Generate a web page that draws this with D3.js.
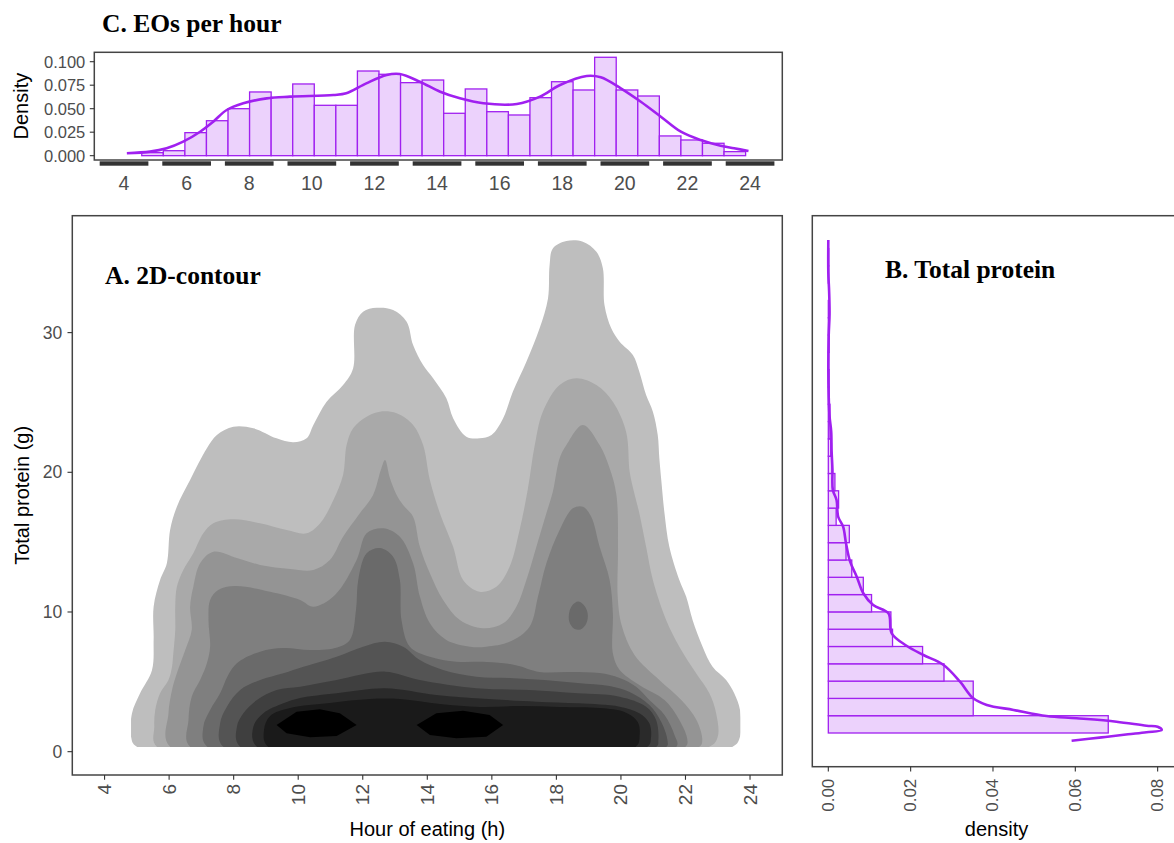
<!DOCTYPE html>
<html>
<head>
<meta charset="utf-8">
<script src="https://cdn.jsdelivr.net/npm/d3@7"></script>
<style>
  html, body { margin: 0; padding: 0; background: #ffffff; }
  svg { display: block; }
</style>
</head>
<body>
<svg id="chart" width="1174" height="843"></svg>
<script>
// ---------------- data ----------------
const hourTicks = [4, 6, 8, 10, 12, 14, 16, 18, 20, 22, 24];
const proteinTicks = [0, 10, 20, 30];
const hourDensityTicks = [0, 0.025, 0.05, 0.075, 0.1];
const proteinDensityTicks = [0, 0.02, 0.04, 0.06, 0.08];

// C. eating occasions per hour: histogram (density scale) + kernel density
const hourBinStart = 4.566;
const hourBinWidth = 0.689;
const hourBinDensity = [
  0.0032, 0.0053, 0.0245, 0.0372, 0.0500, 0.0678, 0.0621, 0.0763, 0.0536, 0.0536,
  0.0901, 0.0866, 0.0777, 0.0805, 0.0451, 0.0710, 0.0468, 0.0433, 0.0617, 0.0787,
  0.0699, 0.1047, 0.0699, 0.0635, 0.0210, 0.0167, 0.0132, 0.0043
];
const hourDensityHours = [4.09, 4.83, 5.36, 5.89, 6.43, 6.85, 7.28, 7.81, 8.56, 9.30, 10.69, 11.10, 11.74, 12.39, 12.81, 13.45, 14.10, 14.73, 15.48, 16.55, 17.29, 17.93, 18.78, 19.23, 19.87, 20.51, 21.15, 21.79, 22.42, 23.06, 23.49, 23.95];
const hourDensityValues = [0.0026, 0.0043, 0.0079, 0.0149, 0.0255, 0.0362, 0.0486, 0.0557, 0.0610, 0.0628, 0.0646, 0.0664, 0.0770, 0.0859, 0.0869, 0.0787, 0.0680, 0.0610, 0.0557, 0.0550, 0.0628, 0.0752, 0.0848, 0.0834, 0.0717, 0.0574, 0.0415, 0.0255, 0.0167, 0.0106, 0.0079, 0.0050];

// B. total protein per eating occasion: histogram + kernel density (flipped)
const proteinBinStart = 1.225;
const proteinBinWidth = 1.25;
const proteinBinDensity = [
  0.0680, 0.0352, 0.0352, 0.0281, 0.0229, 0.0156, 0.0152, 0.0105, 0.0085, 0.0057,
  0.0043, 0.0051, 0.0019, 0.0025, 0.0016, 0.0009, 0.0006, 0.0004, 0.0004, 0.0002,
  0.0002, 0.0001, 0.0002, 0.0001, 0.0001, 0.0000, 0.0001, 0.0001
];
const proteinDensityGrams = [0.67, 0.91, 1.13, 1.28, 1.44, 1.68, 1.75, 2.04, 2.29, 2.45, 2.89, 3.25, 3.73, 4.93, 6.14, 6.86, 7.53, 8.43, 9.87, 10.47, 11.32, 12.52, 13.60, 14.93, 16.13, 16.85, 18.06, 18.78, 20.30, 21.60, 23.00, 24.10, 25.50, 27.50, 30.00, 31.50, 33.10, 34.50, 36.85];
const proteinDensityValues = [0.0591, 0.0664, 0.0728, 0.0773, 0.0810, 0.0800, 0.0773, 0.0700, 0.0603, 0.0530, 0.0450, 0.0385, 0.0352, 0.0320, 0.0280, 0.0231, 0.0190, 0.0154, 0.0146, 0.0109, 0.0085, 0.0069, 0.0053, 0.0043, 0.0036, 0.0024, 0.0020, 0.0011, 0.0010, 0.0008, 0.0007, 0.0003, 0.0001, 0.0000, 0.0001, 0.0003, 0.0002, 0.0000, 0.0000];

// A. 2D density of (hour, protein): outline of each density level, [hour, protein g]
const gridHourRange = [4.82, 23.70];
const gridProteinMin = 0.33;
const level1 = [[5.00,0.36],[4.82,1.07],[4.85,2.75],[5.10,4.18],[5.47,5.85],[5.52,8.00],[5.52,10.38],[5.72,12.29],[5.93,13.49],[6.03,15.87],[6.24,17.54],[6.65,19.45],[7.17,21.72],[7.48,22.67],[7.99,23.26],[8.61,23.15],[9.33,22.43],[9.85,22.15],[10.26,22.43],[10.47,23.39],[10.88,25.05],[11.39,26.25],[11.70,27.44],[11.76,30.54],[12.01,31.50],[12.43,31.78],[12.94,31.62],[13.36,30.78],[13.56,29.11],[13.87,27.68],[14.18,26.73],[14.59,25.30],[14.80,23.87],[15.21,22.55],[15.62,22.43],[15.99,22.67],[16.35,23.87],[16.65,25.77],[17.07,27.92],[17.48,30.31],[17.74,32.45],[17.79,34.84],[17.89,36.03],[18.31,36.56],[18.82,36.51],[19.24,35.79],[19.44,34.60],[19.49,31.98],[19.70,30.31],[19.96,29.35],[20.37,28.40],[20.57,27.20],[20.78,25.53],[20.99,24.34],[21.14,22.67],[21.19,21.00],[21.25,19.45],[21.35,17.07],[21.50,14.67],[21.81,12.29],[22.02,11.10],[22.22,9.43],[22.53,7.52],[22.84,6.08],[23.26,5.13],[23.51,4.18],[23.69,2.98],[23.69,1.07],[23.46,0.36]];
const level2 = [[5.62,0.36],[5.54,1.79],[5.57,2.98],[5.72,4.18],[5.98,5.13],[6.09,6.08],[6.13,7.04],[6.19,8.71],[6.19,10.38],[6.24,11.81],[6.44,13.01],[6.75,14.20],[7.06,15.63],[7.37,16.35],[7.99,16.64],[8.82,16.35],[9.64,15.87],[10.26,15.63],[10.68,16.35],[11.09,18.02],[11.39,19.81],[11.50,21.95],[11.70,23.15],[12.12,23.98],[12.53,24.34],[13.05,24.22],[13.56,23.39],[13.87,21.95],[14.08,19.45],[14.39,17.07],[14.80,14.67],[15.11,12.29],[15.62,11.45],[16.14,11.81],[16.55,13.24],[16.86,15.87],[17.11,18.73],[17.33,21.95],[17.58,24.34],[18.10,26.25],[18.62,26.73],[19.24,26.25],[19.75,25.05],[20.16,22.91],[20.27,20.04],[20.39,18.73],[20.57,17.07],[20.78,14.67],[20.99,12.29],[21.40,9.43],[21.81,7.52],[22.33,5.61],[22.74,4.18],[22.95,2.75],[23.00,1.07],[22.74,0.36]];
const level3 = [[6.03,0.36],[5.98,2.75],[6.09,4.42],[6.24,5.61],[6.50,7.28],[6.70,8.71],[6.65,10.38],[6.75,11.81],[6.96,13.49],[7.37,14.32],[8.10,13.87],[8.82,13.37],[9.75,13.08],[10.47,13.01],[10.98,13.72],[11.39,15.39],[11.91,17.07],[12.32,18.38],[12.56,20.16],[12.69,20.88],[12.84,19.59],[13.05,18.38],[13.25,17.66],[13.56,16.82],[13.77,14.67],[14.08,12.77],[14.49,10.86],[15.01,9.43],[15.73,8.83],[16.35,9.19],[16.76,10.38],[17.07,12.29],[17.38,14.67],[17.69,17.07],[17.89,18.61],[18.10,21.00],[18.31,21.95],[18.82,23.39],[19.34,21.95],[19.65,20.29],[19.86,18.38],[19.91,14.67],[19.90,11.10],[20.02,9.07],[20.42,6.92],[21.19,5.13],[21.87,3.70],[22.34,2.27],[22.52,0.84],[22.43,0.36]];
const level4 = [[6.65,0.36],[6.60,2.27],[6.70,3.94],[6.96,5.13],[7.17,6.33],[7.27,7.52],[7.22,9.43],[7.27,10.86],[7.52,11.57],[8.04,11.86],[9.13,11.45],[10.06,10.86],[10.47,10.38],[11.14,11.22],[11.81,13.72],[12.12,15.63],[12.63,15.99],[13.15,15.39],[13.56,13.49],[13.77,11.10],[14.08,9.19],[14.59,8.00],[15.32,7.52],[15.83,7.52],[16.55,7.87],[17.17,8.95],[17.43,11.10],[17.69,13.49],[18.10,15.87],[18.51,17.42],[18.82,17.54],[19.08,16.82],[19.34,14.67],[19.65,12.29],[19.75,9.91],[19.75,7.04],[19.96,5.85],[20.57,4.78],[21.35,3.70],[21.81,2.27],[22.06,0.84],[22.00,0.36]];
const level5 = [[7.18,0.36],[7.06,1.79],[7.27,2.98],[7.58,4.18],[7.83,5.49],[8.10,6.33],[8.82,7.16],[9.54,7.42],[10.36,7.28],[11.14,7.42],[11.60,8.00],[11.79,10.14],[11.86,12.29],[12.12,14.20],[12.53,14.58],[12.94,13.96],[13.15,12.29],[13.20,9.43],[13.46,7.52],[14.08,6.80],[14.90,6.44],[15.83,6.42],[16.71,6.21],[17.48,5.71],[18.41,5.71],[19.34,5.63],[19.96,5.28],[20.47,4.65],[20.88,3.70],[21.35,2.63],[21.66,1.19],[21.72,0.36]];
const level5Island = [[18.67,10.75],[18.85,10.50],[18.97,9.90],[18.93,9.20],[18.75,8.75],[18.55,8.80],[18.40,9.30],[18.40,10.00],[18.50,10.50]];
const level6 = [[7.68,0.36],[7.58,2.03],[7.79,3.22],[8.20,4.42],[8.82,5.13],[9.54,5.61],[10.16,6.08],[11.19,6.80],[12.01,7.52],[12.69,7.87],[13.25,7.52],[13.77,6.56],[14.49,5.85],[15.52,5.37],[16.55,5.28],[17.63,5.13],[18.66,4.92],[19.65,4.70],[20.27,4.27],[20.88,3.34],[21.25,2.13],[21.44,0.84],[21.41,0.36]];
const level7 = [[8.20,0.36],[8.10,1.79],[8.30,2.75],[8.72,3.70],[9.33,4.42],[10.06,4.65],[11.19,5.13],[12.69,5.73],[13.77,5.13],[15.52,4.54],[17.17,4.42],[18.67,4.18],[19.96,3.94],[20.78,3.22],[21.09,2.27],[21.16,0.84],[21.10,0.36]];
const level8 = [[8.72,0.36],[8.61,1.79],[8.92,2.75],[9.54,3.46],[10.06,3.84],[11.19,4.18],[12.69,4.54],[14.28,4.06],[15.52,3.82],[17.38,3.58],[18.67,3.46],[19.96,3.22],[20.57,2.75],[20.88,2.03],[20.93,0.98],[20.82,0.36]];
const level9 = [[9.07,0.36],[8.94,1.55],[9.13,2.56],[9.75,3.13],[10.98,3.49],[12.22,3.77],[13.15,3.77],[14.39,3.41],[15.63,3.20],[16.86,3.27],[18.10,3.20],[19.34,3.13],[20.11,2.84],[20.52,2.13],[20.58,1.19],[20.46,0.36]];
const level10a = [[9.33,1.91],[9.95,2.86],[10.67,3.04],[11.29,2.75],[11.81,1.91],[11.19,1.12],[10.37,1.03],[9.64,1.32]];
const level10b = [[13.67,1.91],[14.28,2.75],[15.11,2.93],[15.93,2.63],[16.35,1.91],[15.83,1.07],[14.90,0.96],[14.08,1.19]];
const levelGrays = ["#bebebe", "#a9a9a9", "#949494", "#7f7f7f", "#6a6a6a", "#545454", "#3f3f3f", "#2a2a2a", "#1a1a1a", "#000000"];
const levelShapes = [[level1], [level2], [level3], [level4], [level5, level5Island], [level6], [level7], [level8], [level9], [level10a, level10b]];

// ---------------- drawing ----------------
const PURPLE = "#a020f0";
const PURPLE_FILL = "#ecd2fc";
const SANS = "'Liberation Sans', Arial, sans-serif";
const SERIF = "'Liberation Serif', 'Times New Roman', serif";
const TICK_TEXT = "#4d4d4d";
const FRAME = "#444444";

const svg = d3.select("#chart");

function frame(g, x0, y0, x1, y1) {
  g.append("rect")
    .attr("x", x0).attr("y", y0)
    .attr("width", x1 - x0).attr("height", y1 - y0)
    .attr("fill", "none").attr("stroke", FRAME).attr("stroke-width", 1.5);
}

function boldTitle(text, x, y) {
  svg.append("text").attr("x", x).attr("y", y)
    .attr("font-family", SERIF).attr("font-weight", "bold")
    .attr("font-size", 25.5).attr("fill", "#000").text(text);
}

// ===== Panel C: EOs per hour =====
const C = { left: 94.3, right: 782.3, top: 52.3, bottom: 160 };
const xC = d3.scaleLinear().domain([3.05, 25.03]).range([C.left, C.right]);
const yC = d3.scaleLinear().domain([-0.0046, 0.110]).range([C.bottom, C.top]);
const gC = svg.append("g");

gC.selectAll("rect.bar").data(hourBinDensity).join("rect")
  .attr("class", "bar")
  .attr("x", (d, i) => xC(hourBinStart + i * hourBinWidth))
  .attr("width", (d, i) => xC(hourBinStart + (i + 1) * hourBinWidth) - xC(hourBinStart + i * hourBinWidth))
  .attr("y", d => yC(d))
  .attr("height", d => yC(0) - yC(d))
  .attr("fill", PURPLE_FILL).attr("stroke", PURPLE).attr("stroke-width", 1.3);

const hourCurve = hourDensityHours.map((h, i) => [h, hourDensityValues[i]]);
gC.append("path")
  .attr("d", d3.line().x(d => xC(d[0])).y(d => yC(d[1])).curve(d3.curveCatmullRom)(hourCurve))
  .attr("fill", "none").attr("stroke", PURPLE).attr("stroke-width", 2.6);

frame(gC, C.left, C.top, C.right, C.bottom);

// y axis
gC.selectAll("line.ytick").data(hourDensityTicks).join("line")
  .attr("x1", C.left - 4.5).attr("x2", C.left)
  .attr("y1", d => yC(d)).attr("y2", d => yC(d))
  .attr("stroke", "#333").attr("stroke-width", 1.1);
gC.selectAll("text.ylab").data(hourDensityTicks).join("text")
  .attr("x", C.left - 9).attr("y", d => yC(d))
  .attr("text-anchor", "end").attr("dominant-baseline", "central")
  .attr("font-family", SANS).attr("font-size", 16.5).attr("fill", TICK_TEXT)
  .text(d => d3.format(".3f")(d));
svg.append("text")
  .attr("transform", `translate(21,${(C.top + C.bottom) / 2}) rotate(-90)`)
  .attr("text-anchor", "middle").attr("dominant-baseline", "central")
  .attr("font-family", SANS).attr("font-size", 20).attr("fill", "#000").text("Density");

// x axis: heavy dashed axis line, one dash per tick
gC.selectAll("rect.dash").data(hourTicks).join("rect")
  .attr("x", d => xC(d - 0.778))
  .attr("width", d => xC(d + 0.778) - xC(d - 0.778))
  .attr("y", C.bottom + 1.3).attr("height", 4.4)
  .attr("fill", "#333");
gC.selectAll("text.xlab").data(hourTicks).join("text")
  .attr("x", d => xC(d)).attr("y", 190)
  .attr("text-anchor", "middle")
  .attr("font-family", SANS).attr("font-size", 19.5).attr("fill", TICK_TEXT)
  .text(d => d);

boldTitle("C. EOs per hour", 102, 32);

// ===== Panel A: 2D contour =====
const A = { left: 72.3, right: 782.3, top: 215.7, bottom: 775 };
const xA = d3.scaleLinear().domain([3.0, 25.0]).range([A.left, A.right]);
const yA = d3.scaleLinear().domain([-1.67, 38.37]).range([A.bottom, A.top]);
const gA = svg.append("g");

svg.append("defs").append("clipPath").attr("id", "grid-clip")
  .append("rect")
  .attr("x", xA(gridHourRange[0]))
  .attr("width", xA(gridHourRange[1]) - xA(gridHourRange[0]))
  .attr("y", A.top)
  .attr("height", yA(gridProteinMin) - A.top);

const smoothLevel = d3.line()
  .x(d => xA(d[0])).y(d => yA(d[1]))
  .curve(d3.curveCatmullRomClosed.alpha(0.5));
// the innermost (peak) level is a small angular polygon
const sharpLevel = d3.line()
  .x(d => xA(d[0])).y(d => yA(d[1]))
  .curve(d3.curveLinearClosed);

const gContours = gA.append("g").attr("clip-path", "url(#grid-clip)");
levelShapes.forEach((shapes, li) => {
  const gen = li === levelShapes.length - 1 ? sharpLevel : smoothLevel;
  gContours.append("g").selectAll("path").data(shapes).join("path")
    .attr("d", d => gen(d))
    .attr("fill", levelGrays[li]).attr("stroke", "none");
});

frame(gA, A.left, A.top, A.right, A.bottom);

// y axis
gA.selectAll("line.ytick").data(proteinTicks).join("line")
  .attr("x1", A.left - 4.8).attr("x2", A.left)
  .attr("y1", d => yA(d)).attr("y2", d => yA(d))
  .attr("stroke", "#333").attr("stroke-width", 1.1);
gA.selectAll("text.ylab").data(proteinTicks).join("text")
  .attr("x", A.left - 10).attr("y", d => yA(d))
  .attr("text-anchor", "end").attr("dominant-baseline", "central")
  .attr("font-family", SANS).attr("font-size", 17.5).attr("fill", TICK_TEXT)
  .text(d => d);
svg.append("text")
  .attr("transform", `translate(22,${(A.top + A.bottom) / 2}) rotate(-90)`)
  .attr("text-anchor", "middle").attr("dominant-baseline", "central")
  .attr("font-family", SANS).attr("font-size", 20).attr("fill", "#000").text("Total protein (g)");

// x axis
gA.selectAll("line.xtick").data(hourTicks).join("line")
  .attr("x1", d => xA(d)).attr("x2", d => xA(d))
  .attr("y1", A.bottom).attr("y2", A.bottom + 4.8)
  .attr("stroke", "#333").attr("stroke-width", 1.1);
gA.selectAll("text.xlab").data(hourTicks).join("text")
  .attr("transform", d => `translate(${xA(d)},${A.bottom + 9}) rotate(-90)`)
  .attr("text-anchor", "end").attr("dominant-baseline", "central")
  .attr("font-family", SANS).attr("font-size", 19).attr("fill", TICK_TEXT)
  .text(d => d);
svg.append("text")
  .attr("x", (A.left + A.right) / 2).attr("y", 836)
  .attr("text-anchor", "middle")
  .attr("font-family", SANS).attr("font-size", 20).attr("fill", "#000").text("Hour of eating (h)");

boldTitle("A. 2D-contour", 105, 284);

// ===== Panel B: total protein =====
const B = { left: 812.3, right: 1180.7, top: 215.7, bottom: 766.7 };
const xB = d3.scaleLinear().domain([-0.00389, 0.0856]).range([B.left, B.right]);
const yB = d3.scaleLinear().domain([-1.21, 38.6]).range([B.bottom, B.top]);
const gB = svg.append("g");

gB.selectAll("rect.bar").data(proteinBinDensity).join("rect")
  .attr("class", "bar")
  .attr("x", xB(0))
  .attr("width", d => xB(d) - xB(0))
  .attr("y", (d, i) => yB(proteinBinStart + (i + 1) * proteinBinWidth))
  .attr("height", (d, i) => yB(proteinBinStart + i * proteinBinWidth) - yB(proteinBinStart + (i + 1) * proteinBinWidth))
  .attr("fill", PURPLE_FILL).attr("stroke", PURPLE).attr("stroke-width", 1.3);

const proteinCurve = proteinDensityGrams.map((p, i) => [p, proteinDensityValues[i]]);
gB.append("path")
  .attr("d", d3.line().x(d => xB(d[1])).y(d => yB(d[0])).curve(d3.curveCatmullRom)(proteinCurve))
  .attr("fill", "none").attr("stroke", PURPLE).attr("stroke-width", 2.6);

frame(gB, B.left, B.top, B.right, B.bottom);

gB.selectAll("line.xtick").data(proteinDensityTicks).join("line")
  .attr("x1", d => xB(d)).attr("x2", d => xB(d))
  .attr("y1", B.bottom).attr("y2", B.bottom + 4.8)
  .attr("stroke", "#333").attr("stroke-width", 1.1);
gB.selectAll("text.xlab").data(proteinDensityTicks).join("text")
  .attr("transform", d => `translate(${xB(d)},${B.bottom + 12}) rotate(-90)`)
  .attr("text-anchor", "end").attr("dominant-baseline", "central")
  .attr("font-family", SANS).attr("font-size", 17).attr("fill", TICK_TEXT)
  .text(d => d3.format(".2f")(d));
svg.append("text")
  .attr("x", (B.left + B.right) / 2).attr("y", 836)
  .attr("text-anchor", "middle")
  .attr("font-family", SANS).attr("font-size", 20).attr("fill", "#000").text("density");

boldTitle("B. Total protein", 885, 278);
</script>
</body>
</html>
